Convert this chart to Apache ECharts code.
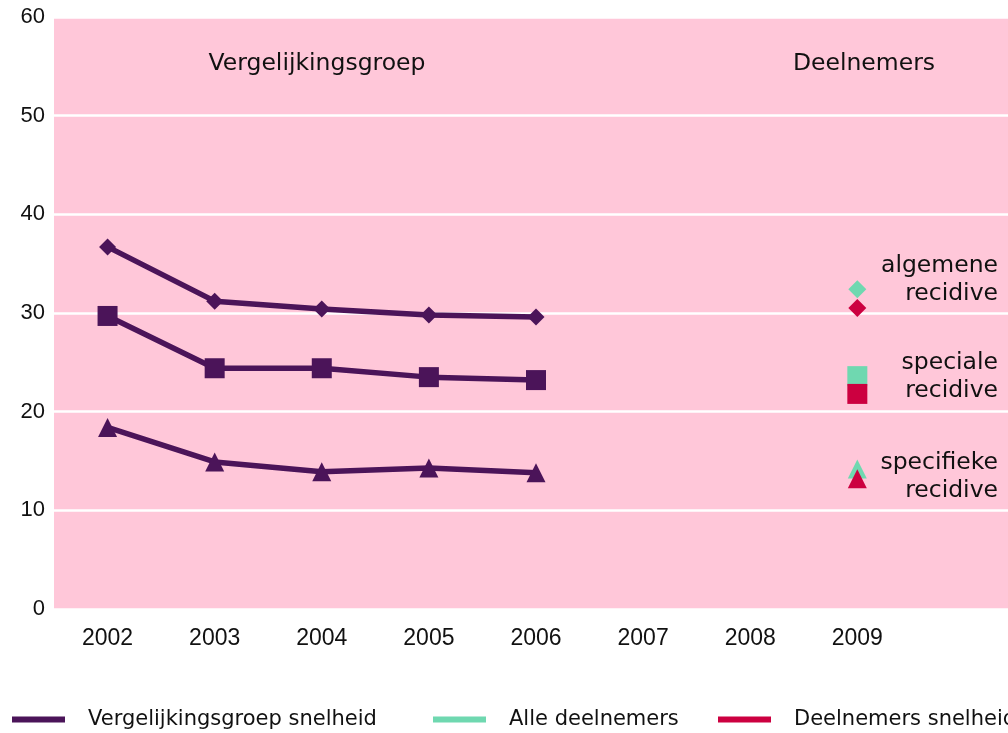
<!DOCTYPE html>
<html>
<head>
<meta charset="utf-8">
<script src="https://cdn.jsdelivr.net/npm/echarts@6/dist/echarts.min.js"></script>
<style>
  html, body { margin: 0; padding: 0; background: #fff; }
  #main { width: 1008px; height: 733px; }
</style>
</head>
<body>
<div id="main"></div>
<script>
// jaren op de x-as (laatste vak is leeg)
var years = ['2002', '2003', '2004', '2005', '2006', '2007', '2008', '2009'];
var yTicks = [0, 10, 20, 30, 40, 50, 60];

// vergelijkingsgroep snelheid
var vgAlgemeen  = [36.7, 31.2, 30.4, 29.8, 29.6];
var vgSpeciaal  = [29.7, 24.4, 24.4, 23.5, 23.2];
var vgSpecifiek = [18.4, 14.9, 13.9, 14.3, 13.8];

// deelnemers in 2009: algemene, speciale, specifieke recidive
var deelYear = '2009';
var alleDeelnemers = [32.4, 23.6, 14.2];
var deelnemersSnelheid = [30.5, 21.8, 13.2];
var symbols = ['diamond', 'rect', 'triangle'];
var symbolSizes = [18, 20, 19];

var purple = '#4b1459';
var green = '#6fd8b0';
var red = '#cc0040';

var myChart = echarts.init(document.getElementById('main'));

function lineSeries(data, symbol, size) {
	return {
		name: 'Vergelijkingsgroep snelheid',
		type: 'line',
		data: data,
		symbol: symbol,
		symbolSize: size,
		showAllSymbol: true,
		lineStyle: { color: purple, width: 5.5 },
		itemStyle: { color: purple },
		emphasis: { disabled: true },
		z: 3
	};
}

function pointSeries(name, values, color) {
	var data = [];
	for (var i = 0; i < values.length; i++) {
		data.push({
			value: [deelYear, values[i]],
			symbol: symbols[i],
			symbolSize: symbolSizes[i]
		});
	}
	return {
		name: name,
		type: 'scatter',
		data: data,
		itemStyle: { color: color, opacity: 1 },
		emphasis: { disabled: true },
		z: 4
	};
}

function legendAt(name, left) {
	return {
		data: [{ name: name, icon: 'rect' }],
		left: left,
		top: 709,
		padding: 0,
		itemWidth: 53,
		itemHeight: 6,
		textStyle: {
			fontFamily: 'DejaVu Sans',
			fontSize: 21,
			color: '#111',
			padding: [0, 0, 0, 18]
		}
	};
}

var labelFont = '23.5px "DejaVu Sans"';

var option = {
	animation: false,
	grid: {
		left: 54,
		width: 964,
		top: 17,
		bottom: 124,
		outerBoundsMode: 'none',
		show: true,
		backgroundColor: '#ffc7d9',
		borderWidth: 0
	},
	xAxis: {
		type: 'category',
		data: years.concat(['']),
		axisLine: { show: false },
		axisTick: { show: false },
		axisLabel: {
			interval: 0,
			margin: 18,
			color: '#111',
			fontFamily: 'Liberation Sans',
			fontSize: 23
		}
	},
	yAxis: {
		type: 'value',
		min: yTicks[0],
		max: yTicks[yTicks.length - 1],
		interval: 10,
		axisLine: { show: false },
		axisTick: { show: false },
		axisLabel: {
			margin: 9,
			color: '#111',
			fontFamily: 'Liberation Sans',
			fontSize: 22
		},
		splitLine: {
			lineStyle: { color: '#ffffff', width: 2.5 }
		}
	},
	legend: [
		legendAt('Vergelijkingsgroep snelheid', 12),
		legendAt('Alle deelnemers', 433),
		legendAt('Deelnemers snelheid', 718)
	],
	graphic: [
		{ type: 'text', x: 317, y: 64, style: { text: 'Vergelijkingsgroep', fill: '#111', font: labelFont, textAlign: 'center', textVerticalAlign: 'middle' } },
		{ type: 'text', x: 864, y: 64, style: { text: 'Deelnemers', fill: '#111', font: labelFont, textAlign: 'center', textVerticalAlign: 'middle' } },
		{ type: 'text', x: 998, y: 280, style: { text: 'algemene\nrecidive', fill: '#111', font: labelFont, lineHeight: 28, textAlign: 'right', textVerticalAlign: 'middle' } },
		{ type: 'text', x: 998, y: 377, style: { text: 'speciale\nrecidive', fill: '#111', font: labelFont, lineHeight: 28, textAlign: 'right', textVerticalAlign: 'middle' } },
		{ type: 'text', x: 998, y: 477, style: { text: 'specifieke\nrecidive', fill: '#111', font: labelFont, lineHeight: 28, textAlign: 'right', textVerticalAlign: 'middle' } }
	],
	series: [
		lineSeries(vgAlgemeen, 'diamond', 17),
		lineSeries(vgSpeciaal, 'rect', 20),
		lineSeries(vgSpecifiek, 'triangle', 19),
		pointSeries('Alle deelnemers', alleDeelnemers, green),
		pointSeries('Deelnemers snelheid', deelnemersSnelheid, red)
	]
};
myChart.setOption(option);
</script>
</body>
</html>
